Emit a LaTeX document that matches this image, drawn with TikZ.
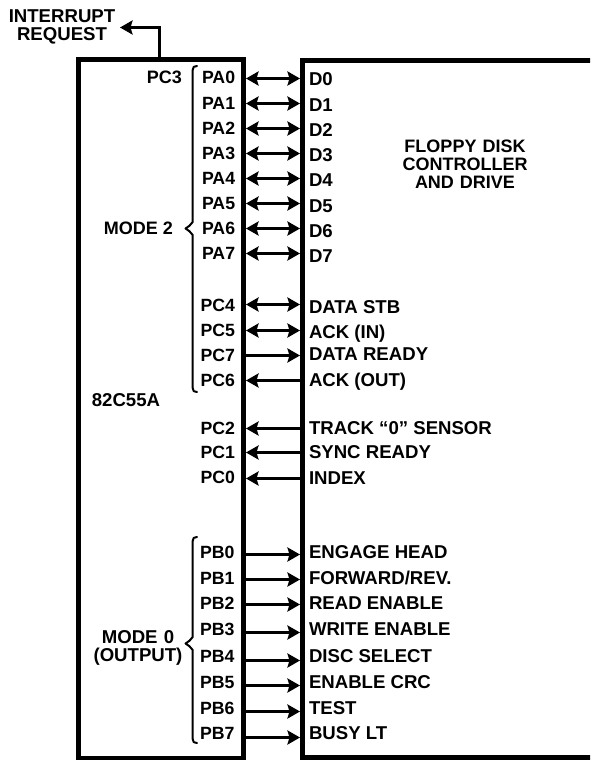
\documentclass[tikz,border=0pt]{standalone}
\usepackage{fontspec}
\setmainfont{Liberation Sans}
\usetikzlibrary{arrows.meta}
\tikzset{
  x=1pt,y=-1pt,
  lab/.style={font=\fontsize{18}{18}\selectfont\bfseries,inner sep=0pt,outer sep=0pt,text=black},
  labbig/.style={lab,font=\fontsize{18.6}{18.6}\selectfont\bfseries},
  pinl/.style={lab,font=\fontsize{17.7}{17.7}\selectfont\bfseries,anchor=base west},
  pinr/.style={labbig,anchor=base west},
  ctr/.style={lab,align=center,anchor=center},
  ctrbig/.style={labbig,align=center,anchor=center},
  boxline/.style={line width=5pt,line join=miter},
  conn/.style={line width=2.8pt,line cap=butt},
  biarrow/.style={conn,{Stealth[length=12.5pt,width=14pt,inset=2pt]}-{Stealth[length=12.5pt,width=14pt,inset=2pt]}},
  toright/.style={conn,-{Stealth[length=12.5pt,width=14pt,inset=2pt]}},
  toleft/.style={conn,{Stealth[length=12.5pt,width=14pt,inset=2pt]}-},
  bracel/.style={line width=2pt,line cap=round,line join=round}
}
% id, left x, left text, left baseline, right text, right baseline, arrow y, style
\newcommand\pinrow[8]{%
  \node[pinl] (l#1) at (#2,#4) {#3};
  \node[pinr] (r#1) at (309,#6) {#5};
  \coordinate (y#1) at (0,#7);
  \draw[#8] (lbox.east |- y#1) -- (rbox.west |- y#1);
}
\begin{document}
\begin{tikzpicture}
\useasboundingbox (0,0) rectangle (590,760);
\begin{scope}
\clip (0,0) rectangle (590,760);
\node[draw,boxline,minimum width=165pt,minimum height=699pt,inner sep=0pt,outer sep=2.5pt] (lbox) at (161,409) {};
\node[minimum width=290pt,minimum height=696pt,inner sep=0pt,outer sep=0pt] (rbox) at (445,409) {};
\coordinate (rne) at (592,60.5);
\coordinate (rnw) at (302.5,60.5);
\coordinate (rsw) at (302.5,757);
\coordinate (rse) at (592,757);
\draw[boxline] (rne) -- (rnw) -- (rsw) -- (rse);

\pinrow{a0}{202}{PA0}{84}{D0}{85}{78.5}{biarrow}
\pinrow{a1}{202}{PA1}{109}{D1}{111}{103.5}{biarrow}
\pinrow{a2}{202}{PA2}{134}{D2}{136}{128.5}{biarrow}
\pinrow{a3}{202}{PA3}{159}{D3}{161}{153.5}{biarrow}
\pinrow{a4}{202}{PA4}{184}{D4}{186}{178.5}{biarrow}
\pinrow{a5}{202}{PA5}{209}{D5}{212}{203.5}{biarrow}
\pinrow{a6}{202}{PA6}{234}{D6}{237}{228.5}{biarrow}
\pinrow{a7}{202}{PA7}{259}{D7}{262}{253.5}{biarrow}
\pinrow{c4}{200.5}{PC4}{311}{DATA STB}{313}{304.5}{biarrow}
\pinrow{c5}{200.5}{PC5}{336}{ACK (IN)}{338}{330.5}{biarrow}
\pinrow{c7}{200.5}{PC7}{361}{DATA READY}{360}{355.5}{toright}
\pinrow{c6}{200.5}{PC6}{386}{ACK (OUT)}{386}{380.5}{toleft}
\pinrow{c2}{200.5}{PC2}{434}{TRACK “0” SENSOR}{434}{428.5}{toleft}
\pinrow{c1}{200.5}{PC1}{458}{SYNC READY}{458}{452.5}{toleft}
\pinrow{c0}{200.5}{PC0}{483}{INDEX}{484}{478.5}{toleft}
\pinrow{b0}{200}{PB0}{558}{ENGAGE HEAD}{558}{554.5}{toright}
\pinrow{b1}{200}{PB1}{584}{FORWARD/REV.}{584}{579.5}{toright}
\pinrow{b2}{200}{PB2}{609}{READ ENABLE}{609}{604.5}{toright}
\pinrow{b3}{200}{PB3}{635}{WRITE ENABLE}{635}{632.5}{toright}
\pinrow{b4}{200}{PB4}{662}{DISC SELECT}{662}{660.5}{toright}
\pinrow{b5}{200}{PB5}{688}{ENABLE CRC}{688}{685.5}{toright}
\pinrow{b6}{200}{PB6}{714}{TEST}{714}{711.5}{toright}
\pinrow{b7}{200}{PB7}{739}{BUSY LT}{739}{737.5}{toright}

\node[lab,anchor=base east] (pc3) at (182,84) {PC3};
\node[ctr] (mode2) at (138.5,228) {MODE 2};
\node[ctrbig] (chip) at (126,400) {82C55A};
\node[ctrbig,text width=90pt] (mode0) at (138,648) {\baselineskip=17.5pt MODE 0\\(OUTPUT)};
\node[ctr,text width=140pt] (fdc) at (465,164.5) {\baselineskip=18pt FLOPPY DISK\\CONTROLLER\\AND DRIVE};
\node[ctrbig,text width=120pt] (irq) at (62,27) {\baselineskip=18pt INTERRUPT\\REQUEST};

\coordinate (irqturn) at (159,27.5);
\coordinate (irqtip) at (120,27.5);
\draw[line width=3pt,-{Stealth[length=12.5pt,width=14pt,inset=2pt]}] (lbox.north -| irqturn) -- (irqturn) -- (irqtip);

\draw[bracel] (197,66) .. controls (194,66) and (192.7,67) .. (192.7,70)
  -- (192.7,222) .. controls (191,225) and (188,227) .. (185.5,228.5)
  .. controls (188,230) and (191,232) .. (192.7,235)
  -- (192.7,388) .. controls (192.7,391) and (194,392) .. (197,392);
\draw[bracel] (197,537) .. controls (194,537) and (192.7,538) .. (192.7,541)
  -- (192.7,637) .. controls (191,640) and (188,642) .. (185.5,643.5)
  .. controls (188,645) and (191,647) .. (192.7,650)
  -- (192.7,739) .. controls (192.7,742) and (194,743) .. (197,743);
\end{scope}
\end{tikzpicture}
\end{document}
